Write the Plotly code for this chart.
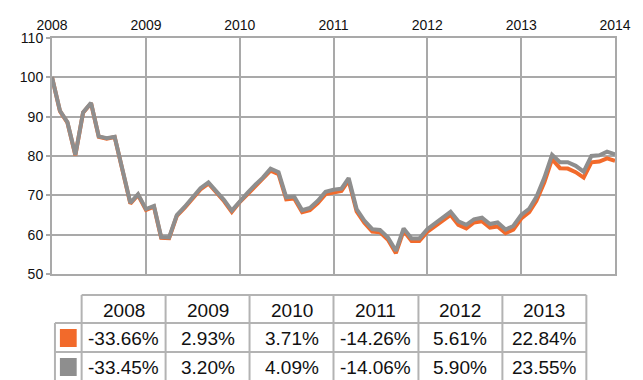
import plotly.graph_objects as go
import pandas as pd

# ---- data ----
dates = pd.date_range("2008-01-01", "2014-01-01", freq="MS")

orange_values = [
    100, 91.4, 88.5, 80.2, 91.0, 93.4, 84.9, 84.4, 84.8, 76.4, 67.9, 70.1,
    66.3, 67.1, 59.2, 59.1, 64.8, 66.9, 69.3, 71.5, 73.0, 70.9, 68.5, 65.8,
    68.3, 70.3, 72.2, 74.1, 76.3, 75.4, 69.0, 69.2, 65.7, 66.2, 68.0, 70.3,
    70.8, 71.1, 73.8, 65.9, 63.0, 60.8, 60.6, 58.7, 55.3, 61.0, 58.4, 58.4,
    60.7, 62.1, 63.6, 65.0, 62.5, 61.6, 63.1, 63.4, 61.8, 62.1, 60.4, 61.3,
    64.1, 65.7, 68.6, 73.3, 79.2, 76.9, 76.8, 75.9, 74.5, 78.4, 78.6, 79.4,
    78.8,
]
gray_values = [
    100, 91.5, 88.6, 80.3, 91.1, 93.5, 85.0, 84.5, 84.9, 76.5, 68.1, 70.3,
    66.5, 67.3, 59.4, 59.3, 65.0, 67.1, 69.5, 71.8, 73.3, 71.2, 68.8, 66.1,
    68.6, 70.7, 72.6, 74.5, 76.8, 75.9, 69.5, 69.7, 66.2, 66.8, 68.6, 70.9,
    71.4, 71.7, 74.4, 66.5, 63.6, 61.4, 61.2, 59.3, 55.9, 61.6, 59.0, 59.0,
    61.4, 62.9, 64.4, 65.8, 63.4, 62.5, 63.9, 64.3, 62.7, 63.1, 61.3, 62.2,
    65.0, 66.6, 69.6, 74.5, 80.3, 78.4, 78.4, 77.5, 76.0, 80.0, 80.2, 81.1,
    80.4,
]

table_years = ["2008", "2009", "2010", "2011", "2012", "2013"]
orange_returns = ["-33.66%", "2.93%", "3.71%", "-14.26%", "5.61%", "22.84%"]
gray_returns = ["-33.45%", "3.20%", "4.09%", "-14.06%", "5.90%", "23.55%"]

ORANGE = "#f26a2b"
GRAY = "#8e8e8e"
GRID = "#a9a9a9"
TBL = "#b3b3b3"
FONT = "Liberation Sans, Arial, Helvetica, sans-serif"

W, H = 643, 380
L, R, T, B = 52, 21, 38, 106
PW, PH = W - L - R, H - T - B


def px(x):
    return (x - L) / PW


def py(y):
    return (H - B - y) / PH


fig = go.Figure()
fig.add_trace(go.Scatter(x=dates, y=orange_values, mode="lines",
                         line=dict(color=ORANGE, width=4), name="A",
                         hoverinfo="skip"))
fig.add_trace(go.Scatter(x=dates, y=gray_values, mode="lines",
                         line=dict(color=GRAY, width=4), name="B",
                         hoverinfo="skip"))

shapes = []
annotations = []

# table geometry
col_edges = [82, 167, 252, 337, 423, 508, 593]
row_edges = [295, 323, 352, 381]
sw_left = 55

# horizontal lines
shapes.append(dict(type="line", xref="paper", yref="paper",
                   x0=px(col_edges[0]), x1=px(col_edges[-1]),
                   y0=py(row_edges[0]), y1=py(row_edges[0]),
                   line=dict(color=TBL, width=2)))
for r in row_edges[1:]:
    shapes.append(dict(type="line", xref="paper", yref="paper",
                       x0=px(sw_left), x1=px(col_edges[-1]),
                       y0=py(r), y1=py(r), line=dict(color=TBL, width=2)))
# vertical lines
for c in col_edges:
    shapes.append(dict(type="line", xref="paper", yref="paper",
                       x0=px(c), x1=px(c), y0=py(row_edges[0]), y1=py(row_edges[-1]),
                       line=dict(color=TBL, width=2)))
shapes.append(dict(type="line", xref="paper", yref="paper",
                   x0=px(sw_left), x1=px(sw_left), y0=py(row_edges[1]), y1=py(row_edges[-1]),
                   line=dict(color=TBL, width=2)))

# swatches
for (y0, y1), col in zip([(329, 347), (358, 376)], [ORANGE, GRAY]):
    shapes.append(dict(type="rect", xref="paper", yref="paper",
                       x0=px(60), x1=px(77), y0=py(y1), y1=py(y0),
                       fillcolor=col, line=dict(width=0)))

rows = [table_years, orange_returns, gray_returns]
for ri, row in enumerate(rows):
    yc = (row_edges[ri] + row_edges[ri + 1]) / 2
    for ci, txt in enumerate(row):
        xc = (col_edges[ci] + col_edges[ci + 1]) / 2
        annotations.append(dict(text=txt, xref="paper", yref="paper",
                                x=px(xc), y=py(yc + 1), xanchor="center", yanchor="middle",
                                showarrow=False, font=dict(size=19, color="#111111", family=FONT)))

fig.update_layout(
    width=W, height=H,
    margin=dict(l=L, r=R, t=T, b=B),
    paper_bgcolor="white", plot_bgcolor="white",
    showlegend=False,
    font=dict(family=FONT, size=14, color="#111111"),
    shapes=shapes, annotations=annotations,
    xaxis=dict(side="top", type="date",
               range=["2008-01-01", "2014-01-01"],
               dtick="M12", tick0="2008-01-01", tickformat="%Y",
               showgrid=True, gridcolor=GRID, gridwidth=2,
               showline=True, linecolor=GRID, linewidth=2, mirror=True,
               ticks="", zeroline=False,
               tickfont=dict(size=14, family=FONT, color="#111111")),
    yaxis=dict(range=[50, 110], dtick=10, tick0=50,
               showgrid=True, gridcolor=GRID, gridwidth=2,
               showline=True, linecolor=GRID, linewidth=2, mirror=True,
               ticks="outside", ticklen=4, tickcolor=GRID, tickwidth=2,
               zeroline=False,
               tickfont=dict(size=14, family=FONT, color="#111111")),
)

fig.write_html("out.html")
